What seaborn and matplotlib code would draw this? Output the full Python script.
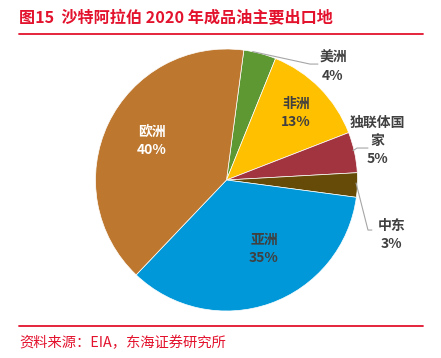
import seaborn as sns
import matplotlib.pyplot as plt
from matplotlib.lines import Line2D

# data
regions = ['美洲', '非洲', '独联体国家', '中东', '亚洲', '欧洲']
shares = [4, 13, 5, 3, 35, 40]
colors = ['#5E9833', '#FFC000', '#A1343F', '#654B07', '#0098D8', '#BD772E']

sns.set_theme(style='white')
plt.rcParams['font.family'] = ['Noto Sans CJK SC', 'DejaVu Sans']

W, H = 441, 358
fig = plt.figure(figsize=(W / 100, H / 100), dpi=100)

red = '#E3122D'
fig.text(19 / W, 1 - 17 / H, '图15  沙特阿拉伯 2020 年成品油主要出口地', color=red,
         fontsize=11.6, fontweight='bold', va='center', ha='left')
fig.add_artist(Line2D([19 / W, 423 / W], [1 - 33.5 / H] * 2, color=red, lw=1.3))
fig.add_artist(Line2D([19 / W, 423 / W], [1 - 325.5 / H] * 2, color=red, lw=1.3))
fig.text(19 / W, 1 - 343 / H, '资料来源：EIA，东海证券研究所', color=red,
         fontsize=10.3, va='center', ha='left')

cx, cy, r = 226.5, 180, 131
ax = fig.add_axes([(cx - r) / W, (H - cy - r) / H, 2 * r / W, 2 * r / H])
ax.pie(shares, colors=colors, startangle=82.4, counterclock=False,
       wedgeprops=dict(edgecolor='white', linewidth=0.5))
ax.set_xlim(-1, 1)
ax.set_ylim(-1, 1)
ax.axis('off')

dark = '#404040'
# label layout: (x, y, text colour)
layout = {
    '美洲': (0.813, 0.863, dark),
    '非洲': (0.53, 0.51, dark),
    '独联体国家': (1.149, 0.30, dark),
    '中东': (1.263, -0.42, dark),
    '亚洲': (0.286, -0.527, dark),
    '欧洲': (-0.571, 0.298, 'white'),
}
for name, val in zip(regions, shares):
    x, y, c = layout[name]
    shown = '独联体国\n家' if name == '独联体国家' else name
    ax.text(x, y, f'{shown}\n{val}%', ha='center', va='center', color=c,
            fontsize=10, fontweight='bold', linespacing=1.35, clip_on=False)

leaders = [
    ([0.2, 0.637, 0.698], [0.98, 0.885, 0.885]),
    ([0.966, 0.996, 1.08], [0.224, 0.244, 0.244]),
    ([0.989, 1.08, 1.11], [-0.023, -0.382, -0.382]),
]
for xs, ys in leaders:
    ax.plot(xs, ys, color='#A6A6A6', lw=0.8, clip_on=False)

fig.savefig('out.png', dpi=100)
